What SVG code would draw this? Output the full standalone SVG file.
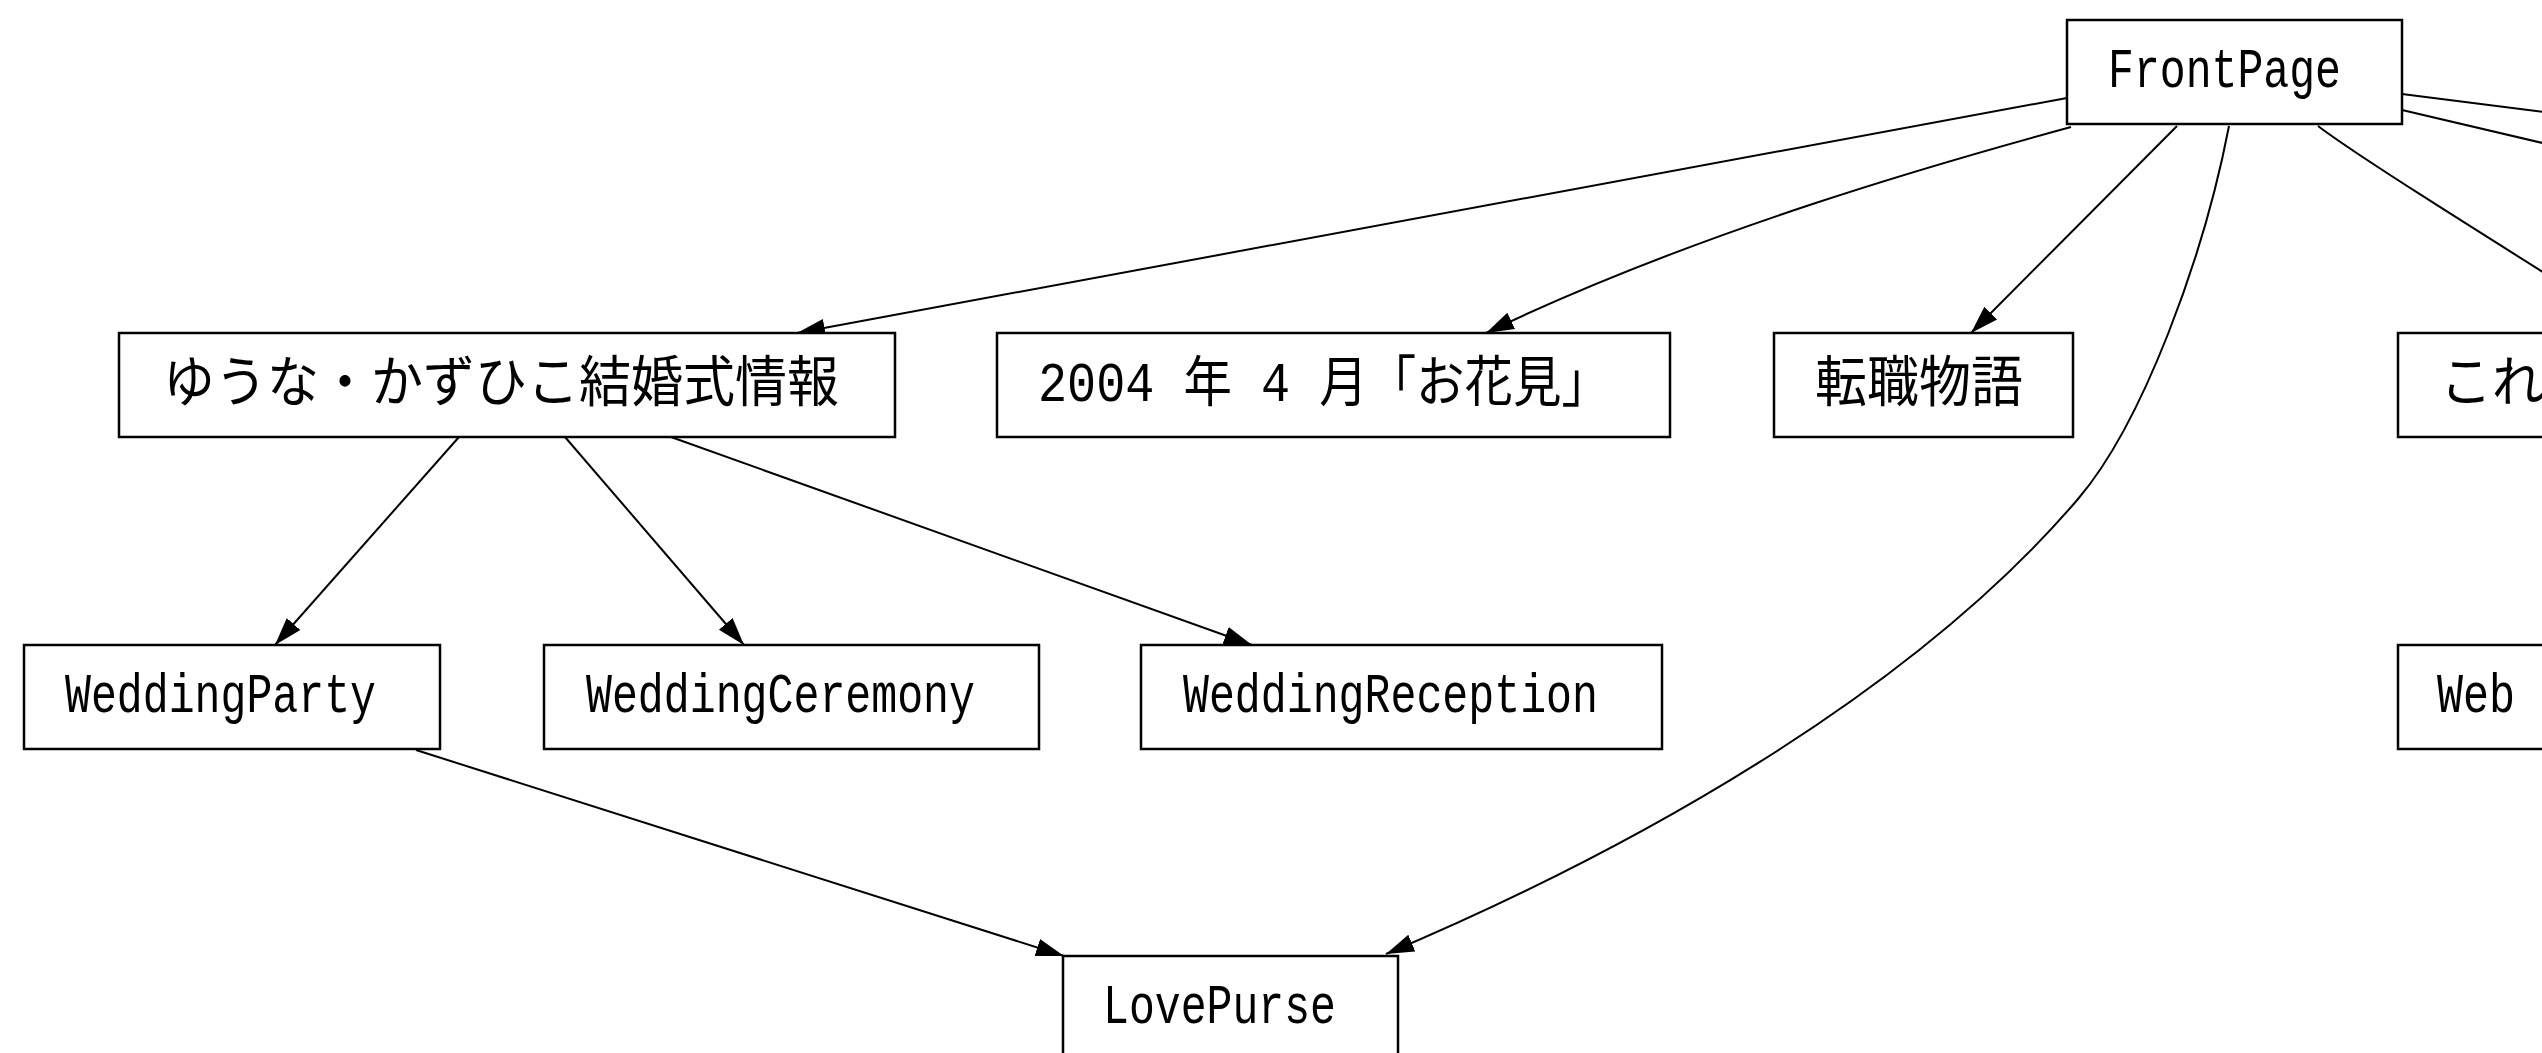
<svg xmlns="http://www.w3.org/2000/svg" width="2542" height="1053" viewBox="0 0 2542 1053">
<style>
.box{fill:#fff;stroke:#000;stroke-width:2.5}
.lbl{font-family:"Liberation Mono","Noto Sans CJK JP",monospace;font-size:55px;fill:#000}
.edge{fill:none;stroke:#000;stroke-width:2}
</style>
<defs>
<marker id="arr" markerUnits="userSpaceOnUse" markerWidth="30" markerHeight="20" viewBox="0 -10 30 20" refX="28" refY="0" orient="auto">
<path d="M0,-9 L28,0 L0,9 z" fill="#000"/>
</marker>
</defs>
<rect width="2542" height="1053" fill="#fff"/>
<g id="edges">
<path class="edge" marker-end="url(#arr)" d="M2067,98 L797,333"/>
<path class="edge" marker-end="url(#arr)" d="M2071,127 C1950,160 1700,230 1486,333"/>
<path class="edge" marker-end="url(#arr)" d="M2177,126 L1971,333"/>
<path class="edge" marker-end="url(#arr)" d="M2229,126 C2204,256 2143,423 2078,499 C1909,697 1625,853 1386,954"/>
<path class="edge" marker-end="url(#arr)" d="M2318,126 C2360,158 2500,245 2640,333"/>
<path class="edge" marker-end="url(#arr)" d="M2402,94 L2700,132"/>
<path class="edge" marker-end="url(#arr)" d="M2402,110 L2700,180"/>
<path class="edge" marker-end="url(#arr)" d="M459,437 L275,645"/>
<path class="edge" marker-end="url(#arr)" d="M565,437 L744,645"/>
<path class="edge" marker-end="url(#arr)" d="M671,437 L1252,645"/>
<path class="edge" marker-end="url(#arr)" d="M416,750 L1064,956"/>
</g>
<g id="n_frontpage"><rect class="box" x="2067" y="20" width="335" height="104"/><text class="lbl" x="2108" y="87" textLength="233" lengthAdjust="spacingAndGlyphs">FrontPage</text></g>
<g id="n_yuuna"><rect class="box" x="119" y="333" width="776" height="104"/><text class="lbl" x="163" y="401" textLength="676" lengthAdjust="spacingAndGlyphs">ゆうな・かずひこ結婚式情報</text></g>
<g id="n_2004"><rect class="box" x="997" y="333" width="673" height="104"/><text class="lbl" x="1038" y="401" textLength="572" lengthAdjust="spacingAndGlyphs">2004 年 4 月「お花見」</text></g>
<g id="n_tenshoku"><rect class="box" x="1774" y="333" width="299" height="104"/><text class="lbl" x="1815" y="401" textLength="208" lengthAdjust="spacingAndGlyphs">転職物語</text></g>
<g id="n_kore"><rect class="box" x="2398" y="333" width="300" height="104"/><text class="lbl" x="2440" y="401" textLength="104" lengthAdjust="spacingAndGlyphs">これ</text></g>
<g id="n_party"><rect class="box" x="24" y="645" width="416" height="104"/><text class="lbl" x="65" y="712" textLength="311" lengthAdjust="spacingAndGlyphs">WeddingParty</text></g>
<g id="n_ceremony"><rect class="box" x="544" y="645" width="495" height="104"/><text class="lbl" x="586" y="712" textLength="389" lengthAdjust="spacingAndGlyphs">WeddingCeremony</text></g>
<g id="n_reception"><rect class="box" x="1141" y="645" width="521" height="104"/><text class="lbl" x="1183" y="712" textLength="415" lengthAdjust="spacingAndGlyphs">WeddingReception</text></g>
<g id="n_web"><rect class="box" x="2398" y="645" width="300" height="104"/><text class="lbl" x="2437" y="712" textLength="78" lengthAdjust="spacingAndGlyphs">Web</text></g>
<g id="n_lovepurse"><rect class="box" x="1063" y="956" width="335" height="104"/><text class="lbl" x="1103" y="1023" textLength="233" lengthAdjust="spacingAndGlyphs">LovePurse</text></g>
</svg>
